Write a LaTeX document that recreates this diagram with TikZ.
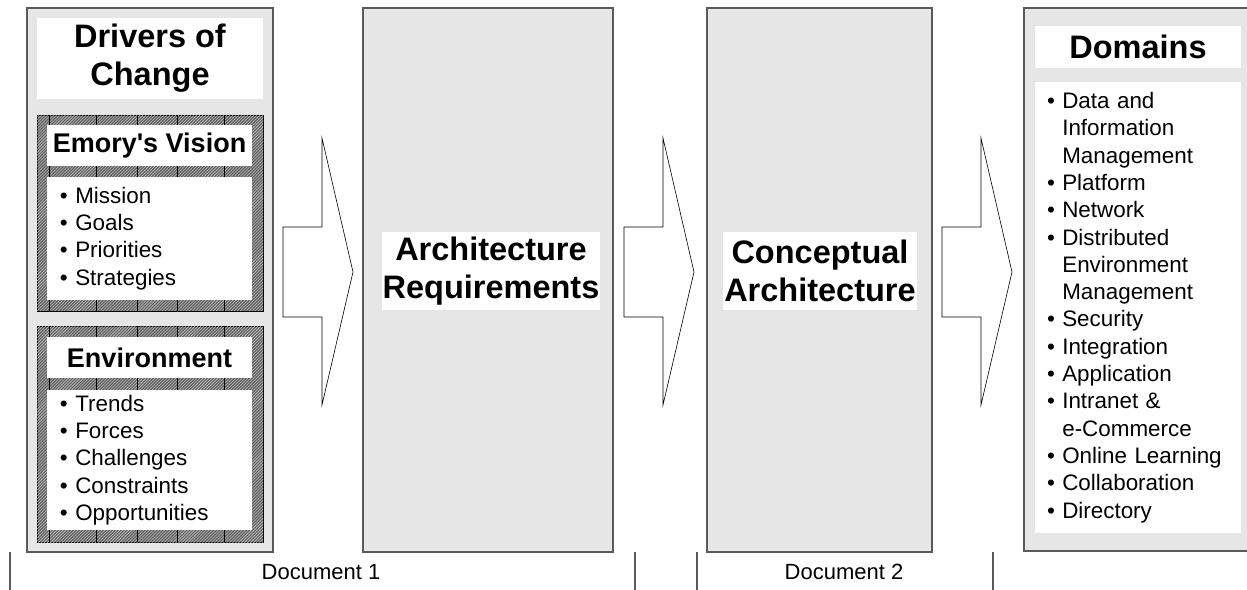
\documentclass[tikz,border=0pt]{standalone}
\usepackage{fontspec}
\setmainfont{Liberation Sans}
\newfontfamily\plainsans{Liberation Sans}
\usetikzlibrary{patterns}

\definecolor{panelgray}{RGB}{230,230,230}
\definecolor{edgegray}{RGB}{90,90,90}
\newcommand{\bulletgap}{\phantom{\textbullet\ }}

\begin{document}
\begin{tikzpicture}[x=1bp,y=-1bp,
    panel/.style={fill=panelgray,draw=edgegray,line width=1.2bp},
    hatchbox/.style={fill=black!60,draw=black,line width=0.8bp},
    whitebox/.style={fill=white,inner sep=0pt,align=center},
    bigtitle/.style={whitebox,font=\fontsize{32.5bp}{38bp}\selectfont\bfseries},
    subtitle/.style={whitebox,font=\fontsize{27bp}{32bp}\selectfont\plainsans\bfseries},
    bullets/.style={fill=white,inner ysep=0pt,align=left,font=\fontsize{22.4bp}{27.3bp}\selectfont},
    blockarrow/.style={fill=white,draw=black,line width=0.6bp},
    bracket/.style={draw=edgegray,line width=1.2bp}]

    \useasboundingbox (0,0) rectangle (1247,590);

    % --- the four columns ---
    \draw[panel] (27,8) rectangle (273,552);
    \draw[panel] (363,8) rectangle (613,552);
    \draw[panel] (707,8) rectangle (932,552);
    \fill[panelgray] (1024,8) rectangle (1247,551);
    \draw[panel,fill=none] (1247,8) -- (1024,8) -- (1024,551) -- (1247,551);

    % --- hatched frames ---
    \draw[hatchbox] (37,115) rectangle (263,311);
    \draw[hatchbox] (37,326) rectangle (263,542);
    \fill[pattern=north east lines,pattern color=black!20] (37,115) rectangle (263,311);
    \fill[pattern=north east lines,pattern color=black!20] (37,326) rectangle (263,542);
    \foreach \tx in {49,96,137,177,224} {
      \draw[black,line width=0.6bp] (\tx,115) -- (\tx,311);
      \draw[black,line width=0.6bp] (\tx,326) -- (\tx,542);
    }

    % --- drivers of change ---
    \node[bigtitle,minimum width=226bp,minimum height=81bp] (drivers) at (150,58.5) {Drivers of\\Change};

    \node[subtitle,minimum width=205bp,minimum height=41bp] (vision) at (149.5,145.5) {Emory's Vision};
    \node[bullets,text width=179bp,inner xsep=13bp,minimum height=123bp] (visionlist) at (149.5,238.5)
      {\textbullet\ Mission\\\textbullet\ Goals\\\textbullet\ Priorities\\\textbullet\ Strategies};

    \node[subtitle,minimum width=205bp,minimum height=41bp] (environment) at (149.5,357.5) {Environment};
    \node[bullets,text width=179bp,inner xsep=13bp,minimum height=140bp] (envlist) at (149.5,460)
      {\textbullet\ Trends\\\textbullet\ Forces\\\textbullet\ Challenges\\\textbullet\ Constraints\\\textbullet\ Opportunities};

    % --- middle columns ---
    \node[bigtitle,minimum width=218bp,minimum height=78bp] (requirements) at (491,271) {Architecture\\Requirements};
    \node[bigtitle,minimum width=194bp,minimum height=78bp] (conceptual) at (820,271) {Conceptual\\Architecture};

    % --- domains ---
    \node[bigtitle,minimum width=206bp,minimum height=42bp] (domains) at (1138,47) {Domains};
    \node[bullets,text width=182bp,inner xsep=12bp,minimum height=451bp] (domainlist) at (1138,307.5)
      {\textbullet\ Data and\\\bulletgap Information\\\bulletgap Management\\
       \textbullet\ Platform\\\textbullet\ Network\\
       \textbullet\ Distributed\\\bulletgap Environment\\\bulletgap Management\\
       \textbullet\ Security\\\textbullet\ Integration\\\textbullet\ Application\\
       \textbullet\ Intranet \&\\\bulletgap e-Commerce\\
       \textbullet\ Online Learning\\\textbullet\ Collaboration\\\textbullet\ Directory};

    % --- block arrows between columns ---
    \foreach \ax in {283,624,942} {
      \draw[blockarrow] (\ax,227) -- (\ax+39,227) -- (\ax+39,138) -- (\ax+70,272)
        -- (\ax+39,405) -- (\ax+39,317) -- (\ax,317) -- cycle;
    }

    % --- document brackets ---
    \foreach \bx in {10,635,697,993} {
      \draw[bracket] (\bx,552) -- (\bx,590);
    }
    \node[font=\fontsize{22bp}{26bp}\selectfont] (doc1) at (321,572) {Document 1};
    \node[font=\fontsize{22bp}{26bp}\selectfont] (doc2) at (844,572) {Document 2};

\end{tikzpicture}
\end{document}
